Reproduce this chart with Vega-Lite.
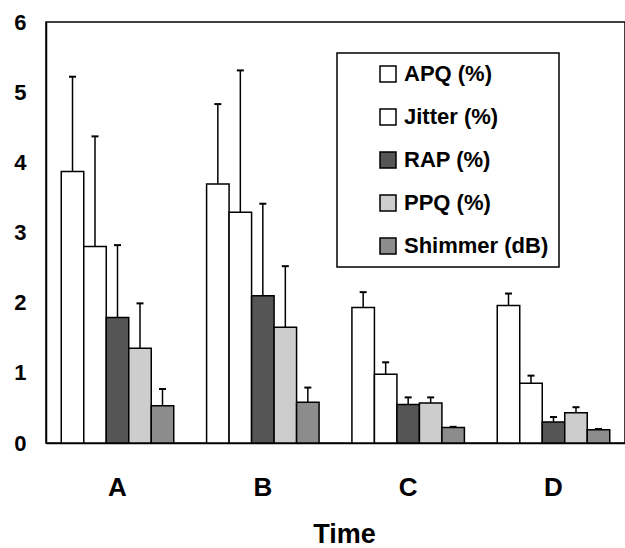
{
  "$schema": "https://vega.github.io/schema/vega-lite/v6.json",
  "width": 579,
  "height": 421,
  "autosize": {"type": "none"},
  "padding": {"left": 46, "top": 22, "right": 0, "bottom": 105},
  "background": "white",
  "config": {
    "font": "Liberation Sans",
    "view": {"stroke": "black", "strokeWidth": 1.5},
    "axis": {"grid": false, "ticks": false, "domainColor": "black", "domainWidth": 1.5, "labelColor": "black", "titleColor": "black", "labelFontWeight": "bold", "titleFontWeight": "bold"}
  },
  "data": {
    "values": [
      {"time": "A", "series": "APQ (%)", "value": 3.87, "upper": 5.22},
      {"time": "A", "series": "Jitter (%)", "value": 2.80, "upper": 4.37},
      {"time": "A", "series": "RAP (%)", "value": 1.79, "upper": 2.82},
      {"time": "A", "series": "PPQ (%)", "value": 1.35, "upper": 1.99},
      {"time": "A", "series": "Shimmer (dB)", "value": 0.53, "upper": 0.77},
      {"time": "B", "series": "APQ (%)", "value": 3.69, "upper": 4.83},
      {"time": "B", "series": "Jitter (%)", "value": 3.29, "upper": 5.31},
      {"time": "B", "series": "RAP (%)", "value": 2.10, "upper": 3.41},
      {"time": "B", "series": "PPQ (%)", "value": 1.65, "upper": 2.52},
      {"time": "B", "series": "Shimmer (dB)", "value": 0.58, "upper": 0.79},
      {"time": "C", "series": "APQ (%)", "value": 1.93, "upper": 2.15},
      {"time": "C", "series": "Jitter (%)", "value": 0.98, "upper": 1.15},
      {"time": "C", "series": "RAP (%)", "value": 0.55, "upper": 0.65},
      {"time": "C", "series": "PPQ (%)", "value": 0.57, "upper": 0.65},
      {"time": "C", "series": "Shimmer (dB)", "value": 0.22, "upper": 0.23},
      {"time": "D", "series": "APQ (%)", "value": 1.96, "upper": 2.13},
      {"time": "D", "series": "Jitter (%)", "value": 0.85, "upper": 0.96},
      {"time": "D", "series": "RAP (%)", "value": 0.30, "upper": 0.37},
      {"time": "D", "series": "PPQ (%)", "value": 0.43, "upper": 0.51},
      {"time": "D", "series": "Shimmer (dB)", "value": 0.19, "upper": 0.20}
    ]
  },
  "encoding": {
    "x": {
      "field": "time", "type": "nominal",
      "scale": {"paddingInner": 0.226, "paddingOuter": 0.105},
      "axis": {"labelAngle": 0, "labelFontSize": 26, "labelPadding": 31, "title": "Time", "titleFontSize": 27, "titleX": 298, "titleY": 99, "titleBaseline": "alphabetic", "titleAlign": "center"}
    },
    "xOffset": {
      "field": "series", "type": "nominal",
      "scale": {"domain": ["APQ (%)", "Jitter (%)", "RAP (%)", "PPQ (%)", "Shimmer (dB)"], "paddingInner": 0, "paddingOuter": 0}
    },
    "y": {
      "field": "value", "type": "quantitative",
      "scale": {"domain": [0, 6]},
      "axis": {"values": [0, 1, 2, 3, 4, 5, 6], "labelFontSize": 22, "labelPadding": 20, "title": null}
    }
  },
  "layer": [
    {
      "mark": {"type": "rule", "color": "black", "strokeWidth": 1.5},
      "encoding": {"y2": {"field": "upper"}}
    },
    {
      "mark": {"type": "tick", "color": "black", "thickness": 2, "size": 7, "opacity": 1},
      "encoding": {"y": {"field": "upper", "type": "quantitative"}}
    },
    {
      "mark": {"type": "bar", "stroke": "black", "strokeWidth": 1.5, "opacity": 1},
      "encoding": {
        "fill": {
          "field": "series", "type": "nominal",
          "scale": {"domain": ["APQ (%)", "Jitter (%)", "RAP (%)", "PPQ (%)", "Shimmer (dB)"], "range": ["white", "white", "#555555", "#cdcdcd", "#8c8c8c"]},
          "legend": {
            "title": null, "orient": "none", "legendX": 291, "legendY": 31,
            "strokeColor": "black", "fillColor": "white",
            "padding": 10, "rowPadding": 21, "symbolOffset": 30,
            "symbolType": "square", "symbolSize": 256, "symbolStrokeColor": "black", "symbolStrokeWidth": 1.5, "symbolOpacity": 1,
            "labelFontSize": 22, "labelFontWeight": "bold", "labelColor": "black", "labelOffset": 5, "labelLimit": 400,
            "labelExpr": "datum.label + '\u00a0\u00a0\u00a0\u00a0\u00a0'",
            "encode": {"legend": {"update": {"strokeWidth": {"value": 1.5}}}}
          }
        }
      }
    }
  ]
}
